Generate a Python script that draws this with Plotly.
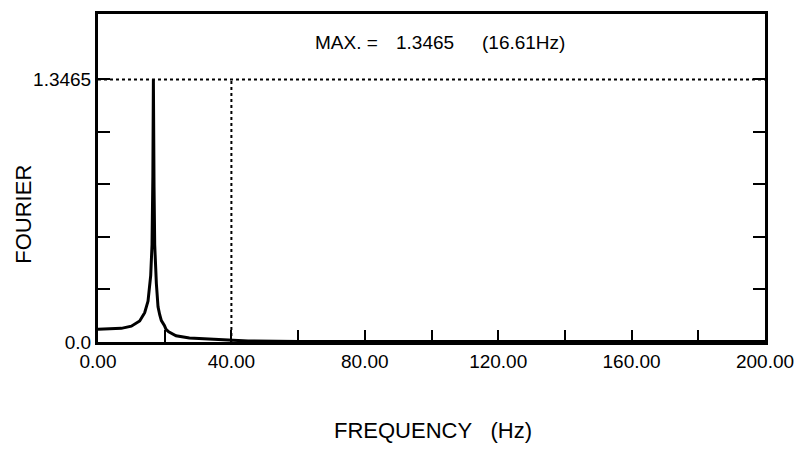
import plotly.graph_objects as go

# ---- data ----
freq_hz = [0, 3, 7, 10, 12.5, 14, 15, 15.8, 16.2, 16.45, 16.61, 16.8, 17.0, 17.5,
           18.0, 18.5, 19.0, 19.9, 20.4, 21.2, 22.4, 23.4, 27.4, 33.3, 39.3,
           45, 60, 100, 150, 200]
fourier_amp = [0.065, 0.066, 0.070, 0.081, 0.108, 0.150, 0.210, 0.340, 0.500, 0.850,
               1.3465, 0.800, 0.500, 0.300, 0.180, 0.140, 0.110, 0.085, 0.065,
               0.052, 0.042, 0.032, 0.020, 0.016, 0.009, 0.005, 0.003, 0.002,
               0.002, 0.002]
max_value = 1.3465
peak_freq = 16.61
cutoff_freq = 40.0
x_tick_vals = [0, 20, 40, 60, 80, 100, 120, 140, 160, 180, 200]
x_tick_text = ["0.00", "", "40.00", "", "80.00", "", "120.00", "", "160.00", "", "200.00"]
y_tick_vals = [0, max_value / 5, 2 * max_value / 5, 3 * max_value / 5, 4 * max_value / 5, max_value]
y_tick_text = ["0.0", "", "", "", "", "1.3465"]

FONT = "Liberation Sans, Arial, sans-serif"

fig = go.Figure()
# dotted reference lines
fig.add_trace(go.Scatter(x=[0, 200], y=[max_value, max_value], mode="lines",
                         line=dict(color="black", width=2, dash="dot"), hoverinfo="skip"))
fig.add_trace(go.Scatter(x=[cutoff_freq, cutoff_freq], y=[0, max_value], mode="lines",
                         line=dict(color="black", width=2, dash="dot"), hoverinfo="skip"))
# spectrum
fig.add_trace(go.Scatter(x=freq_hz, y=fourier_amp, mode="lines",
                         line=dict(color="black", width=3)))

fig.update_layout(
    width=805, height=455,
    margin=dict(l=98, r=35, t=11, b=113),
    paper_bgcolor="white", plot_bgcolor="white",
    showlegend=False,
    font=dict(family=FONT, color="black", size=19),
    xaxis=dict(range=[0, 200], tickvals=x_tick_vals, ticktext=x_tick_text,
               ticks="inside", ticklen=12, tickwidth=2, tickcolor="black",
               showline=True, linecolor="black", linewidth=3, mirror=True,
               showgrid=False, zeroline=False,
               tickfont=dict(family=FONT, size=19, color="black")),
    yaxis=dict(range=[0, max_value * 331 / 265], tickvals=y_tick_vals, ticktext=y_tick_text,
               ticks="inside", ticklen=12, tickwidth=2, tickcolor="black",
               showline=True, linecolor="black", linewidth=3, mirror="ticks",
               showgrid=False, zeroline=False,
               tickfont=dict(family=FONT, size=19, color="black")),
)

annots = [
    dict(text="MAX. =", x=0.372, y=0.912),
    dict(text=f"{max_value:.4f}", x=0.491, y=0.912),
    dict(text=f"({peak_freq:.2f}Hz)", x=0.638, y=0.912),
]
for a in annots:
    fig.add_annotation(xref="paper", yref="paper", showarrow=False,
                       xanchor="center", yanchor="middle",
                       font=dict(family=FONT, size=19, color="black"), **a)

fig.add_annotation(text="FREQUENCY\u00a0\u00a0\u00a0(Hz)", xref="paper", yref="paper",
                   x=0.5015, y=-0.269, showarrow=False, xanchor="center", yanchor="middle",
                   font=dict(family=FONT, size=22, color="black"))
fig.add_annotation(text="FOURIER", xref="paper", yref="paper",
                   x=-0.113, y=0.39, showarrow=False, textangle=-90,
                   xanchor="center", yanchor="middle",
                   font=dict(family=FONT, size=22, color="black"))

fig.write_html("out.html")
